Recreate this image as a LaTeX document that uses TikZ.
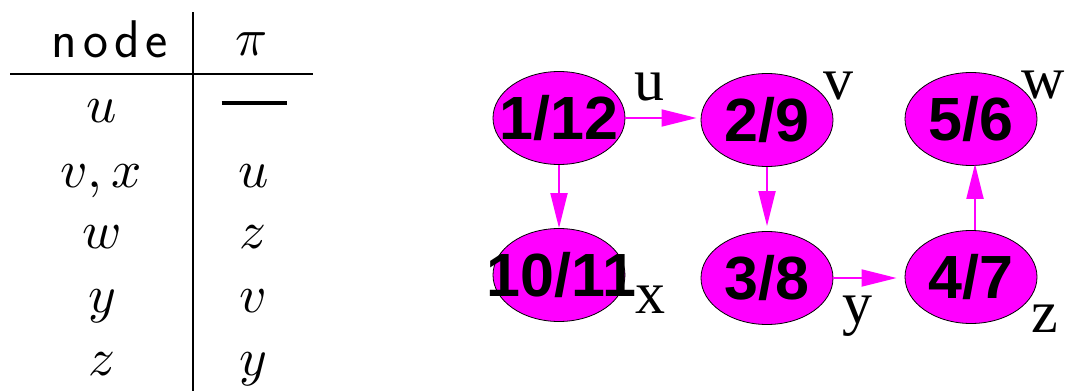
\documentclass[tikz,border=0pt]{standalone}
\usepackage{fontspec}
\newfontfamily\helv{Liberation Sans}
\newfontfamily\tnr{Liberation Serif}
\usetikzlibrary{arrows.meta,shapes.geometric}
\definecolor{mag}{RGB}{255,0,255}
\tikzset{
  vert/.style={ellipse, draw=black, line width=0.8pt, fill=mag,
    minimum width=132pt, minimum height=93pt, inner sep=0pt,
    font=\helv\bfseries\fontsize{61}{61}\selectfont},
  arr/.style={draw=mag, line width=2pt, -{Triangle[length=35pt,width=17pt]}},
  lbl/.style={font=\tnr\fontsize{60}{60}\selectfont, anchor=base, inner sep=0pt},
  tab/.style={scale=5.3, anchor=base, inner sep=0pt},
  rulel/.style={line width=2pt, black}
}
\begin{document}
\begin{tikzpicture}[x=1pt,y=-1pt]
\useasboundingbox (0,0) rectangle (1066,391);
% table
\draw[rulel] (193,12) -- (193,391);
\draw[rulel] (10,74) -- (313,74);
\node[anchor=base, inner sep=0pt, font=\sffamily\fontsize{53}{53}\selectfont] (hn) at (110,57) {n\kern6pt o\kern6pt d\kern6pt e};
\node[tab] (hp) at (252,55) {$\pi$};
\node[tab] (r1l) at (102,122) {$u$};
\node[inner sep=0pt] (r1r) at (254,103) {\rule{65pt}{3.5pt}};
\node[tab] (r2l) at (101,187) {$v,x$};
\node[tab] (r2r) at (254,187) {$u$};
\node[tab] (r3l) at (102,248) {$w$};
\node[tab] (r3r) at (253,248) {$z$};
\node[tab] (r4l) at (102,312) {$y$};
\node[tab] (r4r) at (253,312) {$v$};
\node[tab] (r5l) at (102,375) {$z$};
\node[tab] (r5r) at (253,375) {$y$};
% graph
\node[vert] (a) at (559,118) {\makebox[0pt]{1/12}};
\node[vert] (b) at (767,120) {\makebox[0pt]{2/9}};
\node[vert] (c) at (971,119) {\makebox[0pt]{5/6}};
\node[vert] (d) at (559,275) {\makebox[0pt]{\hspace{5pt}10/11}};
\node[vert] (e) at (767,278) {\makebox[0pt]{3/8}};
\node[vert] (f) at (971,277) {\makebox[0pt]{4/7}};
\draw[arr, shorten >=4pt] (a.east) -- (a.east -| b.west);
\draw[arr] (a.south) -- (d.north);
\draw[arr, shorten >=5pt] (b.south) -- (e.north);
\draw[arr, shorten >=8pt] (e.east) -- (e.east -| f.west);
\draw[arr, shorten >=-2pt] ([xshift=4pt]f.north) -- ([xshift=4pt]c.south);
\node[lbl] (lu) at (649,100) {u};
\node[lbl] (lv) at (838,99) {v};
\node[lbl] (lw) at (1043,98) {w};
\node[lbl] (lx) at (650,313) {x};
\node[lbl] (ly) at (857,323) {y};
\node[lbl] (lz) at (1045,332) {z};
\end{tikzpicture}
\end{document}
